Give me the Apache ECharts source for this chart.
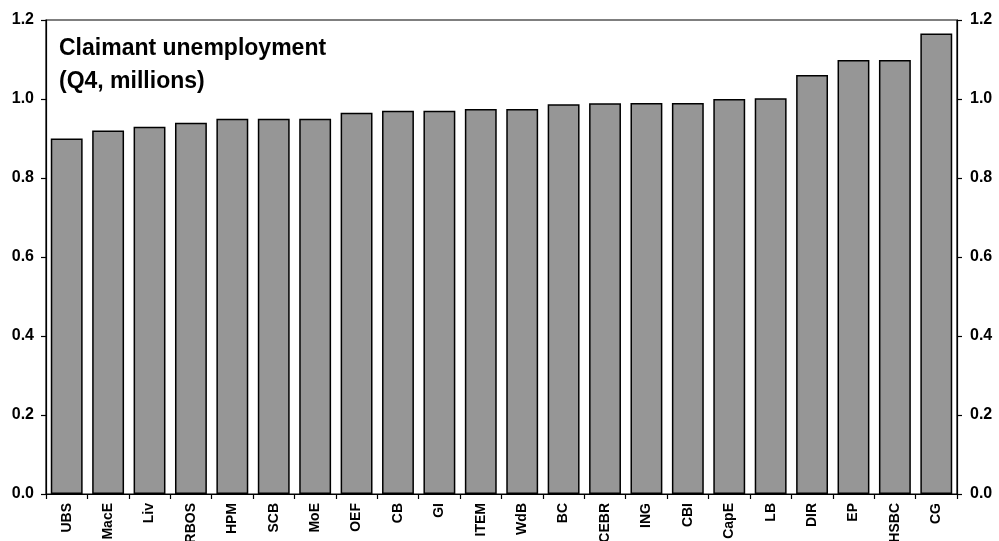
<!DOCTYPE html>
<html>
<head>
<meta charset="utf-8">
<script src="https://cdn.jsdelivr.net/npm/echarts@6/dist/echarts.min.js"></script>
<style>
html,body{margin:0;padding:0;background:#fff;}
#chart{width:999px;height:541px;}
</style>
</head>
<body>
<div id="chart"></div>
<script>
var categories = ["UBS","MacE","Liv","RBOS","HPM","SCB","MoE","OEF","CB","GI","ITEM","WdB","BC","CEBR","ING","CBI","CapE","LB","DIR","EP","HSBC","CG"];
var values = [0.90,0.92,0.93,0.94,0.95,0.95,0.95,0.965,0.97,0.97,0.975,0.975,0.987,0.989,0.99,0.99,1.0,1.002,1.061,1.099,1.099,1.166];
var titleLines = ["Claimant unemployment","(Q4, millions)"];
var yMin = 0, yMax = 1.2, yStep = 0.2;

var chart = echarts.init(document.getElementById('chart'), null, {renderer:'canvas'});
var font = 'Liberation Sans, Arial, sans-serif';
function yAxisCfg(pos){
  return {
    type:'value', position:pos, min:yMin, max:yMax, interval:yStep,
    axisLine:{show:true, lineStyle:{color:'#000', width:1.2}},
    axisTick:{show:true, inside:false, length:5, lineStyle:{color:'#000', width:1.2}},
    splitLine:{show:false},
    axisLabel:{color:'#000', fontFamily:font, fontWeight:'bold', fontSize:16, margin:pos==='left'?12:13,
      formatter:function(v){return v.toFixed(1);}}
  };
}
chart.setOption({
  animation:false,
  backgroundColor:'#fff',
  title:{
    text:titleLines.join('\n'), left:54, top:27,
    textStyle:{fontFamily:font, fontWeight:'bold', fontSize:23, color:'#000', lineHeight:33}
  },
  grid:{left:46, right:42, top:20, bottom:47, containLabel:false, outerBoundsMode:'none', show:true, borderColor:'#000', borderWidth:1.2, backgroundColor:'transparent'},
  xAxis:{
    type:'category', data:categories,
    axisLine:{show:true, lineStyle:{color:'#000', width:1.2}},
    axisTick:{show:true, alignWithLabel:false, length:5, lineStyle:{color:'#000', width:1.2}},
    axisLabel:{rotate:90, color:'#000', fontFamily:font, fontWeight:'bold', fontSize:14, margin:9, interval:0}
  },
  yAxis:[yAxisCfg('left'), yAxisCfg('right')],
  series:[{
    type:'bar', data:values, yAxisIndex:0, barCategoryGap:'23%',
    itemStyle:{color:'#969696', borderColor:'#000', borderWidth:1.5}
  }]
});
</script>
</body>
</html>
